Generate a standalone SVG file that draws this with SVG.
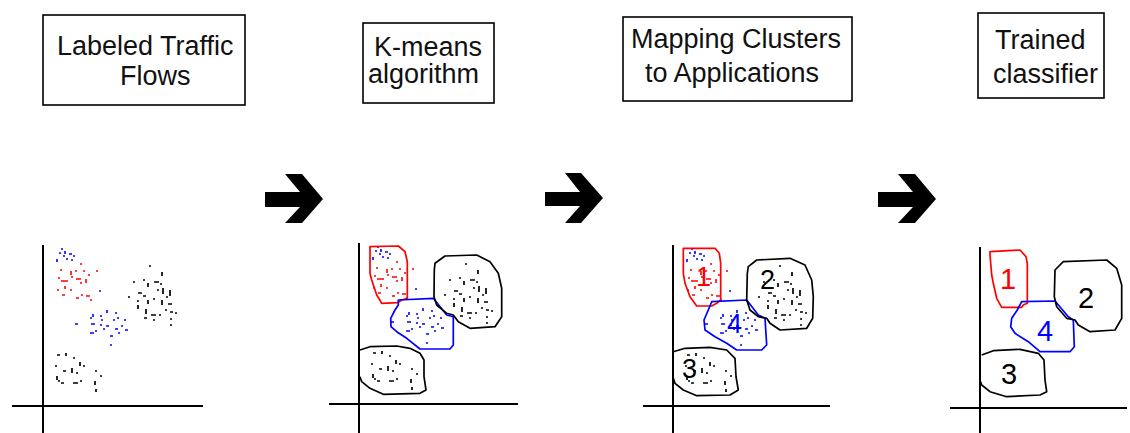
<svg xmlns="http://www.w3.org/2000/svg" xmlns:xlink="http://www.w3.org/1999/xlink" width="1130" height="433" viewBox="0 0 1130 433">
<style>
.box{fill:#fff;stroke:#000;stroke-width:1.6}
.lbl{font-family:"Liberation Sans",Arial,sans-serif;font-size:27px;fill:#111}
.axis{stroke:#000;stroke-width:2;fill:none}
.arrow{fill:#000}
.red{fill:none;stroke:#f00;stroke-width:1.7;stroke-linejoin:round}
.blue{fill:none;stroke:#00f;stroke-width:1.7;stroke-linejoin:round}
.blk{fill:none;stroke:#000;stroke-width:1.7;stroke-linejoin:round}
.dr{fill:none;stroke:#f00;stroke-width:1.6}
.db{fill:none;stroke:#00f;stroke-width:1.6}
.dk{fill:none;stroke:#000;stroke-width:1.7}
.num{font-family:"Liberation Sans",Arial,sans-serif;font-size:27px}
.num4{font-family:"Liberation Sans",Arial,sans-serif;font-size:29px}
</style>
<defs>
<g id="dots">
<path class="db" d="M61 249h2M65 251v3M69 254h3M57 259v3M63 256h2M71 260h2M73 256h2M59 253h2M66 259h2M99 291h2"/>
<path class="dr" d="M60 270h2M71 271v4M80 264h2M83 271h2M96 271h2M58 278h2M61 281h6M71 277h2M76 279h5M86 279v4M88 275h2M57 290h2M65 286v3M70 290h2M80 283h2M62 295h3M76 298h3M81 295h2M86 296h4M90 300h2M75 271h2M66 281h2"/>
<path class="db" d="M75 324h3M90 318h2M93 314v3M100 316h2M107 310v3M115 313h2M118 317v2M124 320h2M91 324h4M100 325h2M106 326h3M115 329h3M125 330h3M90 333h4M95 331h2M110 336h3M118 333h2M110 345h2M101 320h2M113 320h2M103 329h2M121 326h2"/>
<path class="dk" d="M149 266h2M162 272v4M133 282h2M143 280h2M148 283v4M154 282h5M160 284h2M163 288v6M170 290v6M128 297h2M138 293h4M143 296h3M148 300v4M153 299h2M162 300v5M168 304h4M138 305v4M146 309v5M151 315h5M159 315h2M165 310h2M170 312h3M175 313h2M137 301h2M144 318h3M153 320h2M170 319h2M170 325h2M157 290h2M166 297h2"/>
<path class="dk" d="M57 355h3M66 353v3M73 358h2M80 362v4M55 366h2M63 371h3M72 368v5M76 373h2M57 376v4M61 383h3M73 383h5M80 381h2M95 371h2M100 376h2M95 381v4M96 389v3M83 366h2M58 381h2"/>
</g>
</defs>

<g id="node-labeled">
<rect class="box" x="43" y="15" width="202" height="90"/>
<text class="lbl" x="57" y="55">Labeled Traffic</text>
<text class="lbl" x="120" y="85">Flows</text>
</g>
<g id="node-kmeans">
<rect class="box" x="363" y="23" width="131" height="80"/>
<text class="lbl" x="374" y="56">K-means</text>
<text class="lbl" x="368" y="83">algorithm</text>
</g>
<g id="node-mapping">
<rect class="box" x="623" y="17" width="229" height="84"/>
<text class="lbl" x="631" y="48">Mapping Clusters</text>
<text class="lbl" x="645" y="82">to Applications</text>
</g>
<g id="node-trained">
<rect class="box" x="978" y="13" width="126" height="85"/>
<text class="lbl" x="995" y="49">Trained</text>
<text class="lbl" x="993" y="83">classifier</text>
</g>

<g id="connectors">
<polygon class="arrow" points="265,192 300,192 285,174 302,174 323,199 302,223 285,223 300,207 265,207"/>
<polygon class="arrow" points="545,192 580,192 565,173 581,173 603,198 581,223 565,223 580,206 545,206"/>
<polygon class="arrow" points="878,192 913,192 898,174 915,174 936,199 915,223 898,223 913,207 878,207"/>
</g>

<g id="plot-1">
<path class="axis" d="M43 245V433M12 406H203"/>
<use xlink:href="#dots"/>
</g>

<g id="plot-2">
<path class="axis" d="M359 243V433M329 404H518"/>
<use xlink:href="#dots" transform="translate(316,-2)"/>
<path class="red" d="M370 246.7L398.3 246L405 251.7L407.3 261.7L407.3 298.3L401.7 300L397.7 302.7L381.7 303.3L376.7 295L371.7 280L370 273.3Z"/>
<path class="blue" d="M398.3 300L433.3 298.3L446.7 315L453.3 316.7L453.3 345L450 349L420 349L406.7 338.3L396.7 331.7L391 326.7L390.7 318.3L395 310L398.3 305Z"/>
<path class="blk" d="M435 263.3L445 256L476.7 255L490 261.7L498.3 273.3L501.7 288.3L501.7 316.7L495 326.7L470 328.3L458.3 321.7L453.3 315L446.7 313.3L436.7 305L434 296.7L434.3 270Z"/>
<path class="blk" d="M360 350L370 346.7L396.7 346L410 348.3L420 353.3L424 360L424 376.7L426 390L420 393.3L383.3 394.3L370 388.3L361.7 381.7L360 376.7"/>
</g>

<g id="plot-3">
<path class="axis" d="M673 245V433M643 406H830"/>
<use xlink:href="#dots" transform="translate(630,0)"/>
<path class="red" d="M683.3 248.3L715 248.3L719.3 253.3L720.7 263.3L720.7 300L716.7 303.3L711.7 306L696.7 306L690 296.7L685 283.3L683.3 273.3Z"/>
<path class="blue" d="M711.7 301.7L746.7 300L758.3 315L765 318.3L766.7 345L761.7 350L736.7 350L726.7 343.3L715 336.7L705 330L704 320L708.3 310Z"/>
<path class="blk" d="M748.3 266.7L756.7 260L790 258.3L805 265L811.7 280L813.3 296.7L812.7 318.3L806.7 328.3L780 330L770 323.3L766.7 318.3L758.3 316.7L750 310L746.7 300L747.3 273.3Z"/>
<path class="blk" d="M673.3 351.7L685 348.3L710 347.3L726.7 350L735 358.3L736 376.7L738.3 390L730 395L696.7 395.7L683.3 390L675 383.3L673.3 378.3"/>
<text class="num" x="696" y="286" fill="#f00">1</text>
<text class="num" x="760" y="289" fill="#000">2</text>
<text class="num" x="727" y="333" fill="#00f">4</text>
<text class="num" x="682" y="378" fill="#000">3</text>
</g>

<g id="plot-4">
<path class="axis" d="M980 247V433M950 408H1127"/>
<path class="red" d="M990 251.7L1020 250L1026 256.7L1027.3 263.3L1027.3 303.3L1023.3 305L1021.7 307.3L1001.7 307.3L996.7 298.3L993.3 283.3L991.7 275L990 255Z"/>
<path class="blue" d="M1021.7 301.7L1055 301L1068.3 316.7L1073.3 320L1074.3 346.7L1070 351.7L1040 351.7L1028.3 341.7L1015 333.3L1010.7 326.7L1011.7 318.3L1017.3 310Z"/>
<path class="blk" d="M1055 270L1063.3 261.7L1106.7 260L1116.7 268.3L1121.7 285L1121.7 318.3L1115 330L1090 331.7L1078.3 325L1075 320L1066.7 318.3L1056.7 306.7L1054.3 296.7Z"/>
<path class="blk" d="M981.7 355L993.3 350.7L1020 349.3L1038.3 353.3L1044 360L1045 380L1046.7 391.7L1040 395L1006.7 396.7L990 391.7L981.7 385L980.7 381.7"/>
<text class="num4" x="1000" y="289" fill="#f00">1</text>
<text class="num4" x="1078" y="308" fill="#000">2</text>
<text class="num4" x="1037" y="341" fill="#00f">4</text>
<text class="num4" x="1001" y="384" fill="#000">3</text>
</g>
</svg>
